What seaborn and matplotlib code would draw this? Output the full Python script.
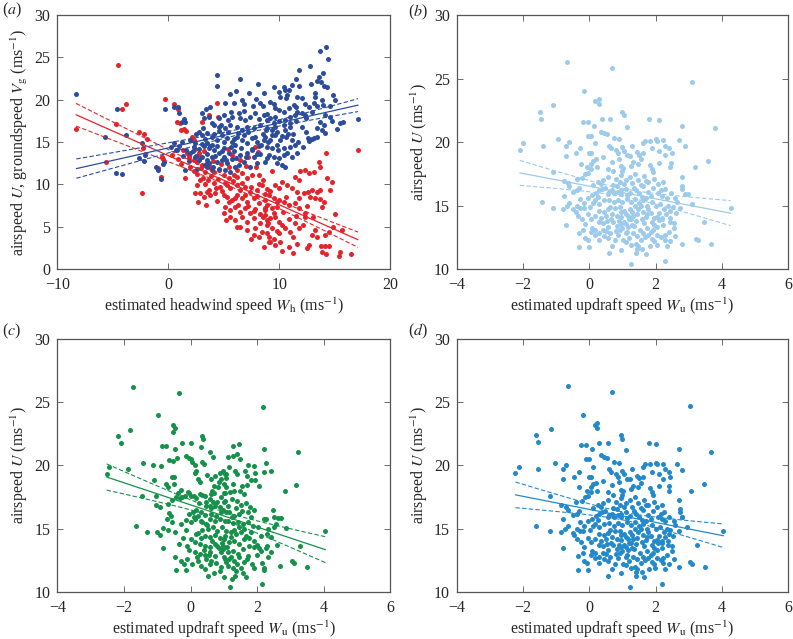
import numpy as np
import matplotlib
matplotlib.use("Agg")
import matplotlib.pyplot as plt
import seaborn as sns

# ---------------- data ----------------
# panel (a): headwind speed vs groundspeed (blue) and airspeed (red)
headwind_ground = [-8.29, -4.59, -5.67, -3.78, -4.68, -4.2, -2.34, -2.6, -2.19, -2.12,
    4.37, 4.37, 6.48, 8.04, 5.57, 6.12, 7.29, 8.64, 6.66, 6.78,
    7.92, 8.28, 5.12, 5.88, 3.71, 3.38, -0.26, 0.47, 0.83, 0.95,
    1.37, 1.22, 1.52, 3.02, 3.17, 3.62, 4.52, 4.97, 5.34, 5.73,
    6.33, 6.48, 6.93, 7.38, 7.83, 8.13, 8.58, 8.88, 4.07, 4.52,
    5.12, 5.57, 6.18, 6.63, 7.08, 7.68, 8.28, 8.82, 2.72, 3.02,
    3.47, 3.92, 4.37, 4.82, 5.27, 5.73, 6.18, 6.63, 7.08, 7.53,
    7.98, 8.58, 1.97, 2.42, 2.27, 2.72, 3.17, 3.62, 4.07, 4.52,
    4.97, 5.42, 5.88, 6.48, 7.08, 7.68, 8.28, 8.88, 3.02, 3.47,
    3.92, 4.37, 4.82, 5.27, 5.73, 6.33, 6.78, 7.38, 7.98, 0.47,
    0.92, 1.22, 0.23, 0.71, -1.1, -0.89, -0.62, -0.38, -0.44, 1.52,
    3.47, 3.92, 5.12, 5.57, 2.42, 1.97, 3.47, 3.77,
    14.2, 13.63, 14.38, 13.9, 12.79, 11.8, 13.54, 13.78, 11.5, 12.85,
    13.42, 13.99, 14.32, 11.74, 11.13, 10.83, 9.48, 10.38, 10.53, 9.93,
    10.08, 10.68, 10.59, 11.59, 12.04, 13.17, 13.18, 14.8, 15.04, 9.18,
    9.48, 11.28, 11.49, 12.34, 12.64, 13.09, 13.39, 13.84, 13.9, 9.99,
    10.38, 10.83, 11.59, 12.04, 12.34, 10.98, 11.43, 14.14, 14.59, 14.74,
    13.69, 13.99, 15.49, 15.7, 17.09, 8.88, 9.18, 9.63, 9.48, 9.93,
    10.38, 8.88, 9.33, 9.78, 10.53, 10.98, 13.39, 13.84, 14.14, 12.55,
    12.94, 13.39, 8.73, 9.18, 9.63, 10.08, 8.88, 9.33, 9.78, 10.38,
    9.03, 9.48, 9.93, 10.38, 10.68, 11.13, 11.59, 9.78, 10.23, 10.53,
    10.98, 11.43, 12.64, 13.09, 11.5, 12.0, 12.4, 11.2, 11.7, 12.1,
    10.6, 11.0, 8.2, 7.5, 6.0, 5.0,
    2.2, 2.5, 2.8, 3.0, 3.3, 3.5, 3.7, 3.9, 4.1, 4.2,
    4.4, 4.6, 4.8, 5.0, 5.2, 5.4, 5.6, 5.9, 6.1, 6.3,
    6.5, 6.8, 7.0, 7.2, 7.5, 7.8, 8.0, 8.3, 8.5, 8.7,
    9.0, 9.3, 9.6, 9.9, 10.2, 10.5, 10.8, 11.1, 2.5, 3.1,
    3.9, 4.7, 5.6, 6.8, 7.6, 8.5, 3.3, 4.0, 4.6, 6.0,
    1.6, 1.3, 0.8, 1.9, 2.6, 9.6, 12.4, 12.9, 14.6, 15.2]
groundspeed_Vg = [20.63, 18.94, 15.63, 15.83, 11.34, 11.22, 14.88, 13.07, 12.7, 13.46,
    22.92, 21.62, 22.41, 21.85, 20.67, 21.07, 20.75, 20.75, 19.97, 19.45,
    20.04, 19.65, 19.65, 19.57, 19.18, 18.86, 18.9, 19.18, 19.1, 18.39,
    17.68, 17.41, 17.41, 18.39, 17.8, 18.0, 17.8, 18.2, 17.6, 17.92,
    18.39, 17.8, 17.6, 18.0, 18.39, 17.68, 18.2, 17.6, 17.01, 16.82,
    16.62, 17.01, 16.82, 16.42, 16.82, 16.62, 17.01, 16.42, 16.23, 15.83,
    16.11, 15.63, 15.24, 15.83, 15.44, 15.04, 15.56, 15.24, 14.85, 15.44,
    15.04, 15.24, 15.24, 14.85, 14.37, 14.14, 14.53, 14.26, 14.06, 13.74,
    14.26, 13.67, 13.98, 13.47, 13.74, 13.27, 13.59, 13.08, 13.27, 12.88,
    13.2, 12.68, 12.88, 12.49, 12.96, 12.29, 12.68, 12.09, 12.49, 14.85,
    14.53, 15.04, 14.37, 14.06, 12.01, 11.7, 10.67, 12.68, 12.41, 11.7,
    12.09, 11.7, 11.7, 11.5, 13.27, 13.67, 14.85, 14.53,
    26.26, 25.79, 24.76, 23.11, 24.02, 23.5, 22.72, 22.13, 22.44, 21.85,
    22.24, 21.65, 21.54, 21.61, 21.73, 21.14, 21.54, 21.54, 21.14, 20.87,
    20.35, 20.55, 20.16, 20.35, 20.16, 20.75, 20.35, 20.55, 20.0, 19.76,
    19.45, 19.37, 19.17, 19.45, 19.17, 19.57, 19.29, 19.96, 19.37, 18.78,
    18.58, 18.98, 18.58, 18.39, 18.19, 18.0, 18.19, 18.19, 18.0, 17.48,
    17.4, 17.0, 17.2, 17.4, 17.68, 18.27, 17.8, 18.0, 17.2, 17.48,
    17.0, 16.61, 16.42, 16.14, 16.42, 16.81, 16.61, 16.42, 16.02, 15.51,
    15.35, 15.63, 15.63, 15.24, 15.83, 15.24, 14.45, 14.25, 14.65, 14.33,
    13.46, 13.27, 13.07, 13.46, 13.66, 13.27, 13.66, 12.48, 12.28, 12.09,
    14.45, 14.65, 15.12, 15.43, 17.5, 16.8, 16.2, 15.9, 15.0, 14.4,
    15.6, 17.3, 14.5, 14.0, 14.6, 13.2,
    13.9, 13.4, 12.9, 14.8, 15.4, 13.6, 12.5, 14.7, 15.9, 13.3,
    14.5, 16.3, 13.9, 15.0, 12.9, 16.2, 14.4, 15.3, 13.1, 16.1,
    14.3, 15.8, 13.2, 16.2, 14.2, 15.6, 13.6, 14.6, 16.0, 12.6,
    15.0, 15.8, 16.8, 14.0, 15.7, 17.6, 16.0, 15.2, 16.0, 16.7,
    17.3, 17.0, 18.5, 18.7, 19.2, 19.3, 12.3, 12.0, 11.8, 12.0,
    14.0, 13.3, 14.0, 12.7, 11.8, 19.0, 17.8, 18.6, 19.3, 16.5]

headwind_air = [-8.32, -4.56, -4.2, -3.78, -4.68, -5.64, -2.64, -2.19, -2.25, -2.34,
    -1.94, -0.29, 0.47, 0.83, 0.77, 1.01, 4.37, 3.68, 4.43, 3.02,
    1.13, 1.37, 1.61, 2.12, 2.27, -0.59, -0.44, 1.31, 1.67, 1.82,
    2.27, 2.72, 2.87, 2.57, 3.02, 3.47, 3.77, 4.07, 4.52, 4.97,
    5.42, 5.88, 6.18, 6.63, 7.08, 7.53, 8.13, 8.52, 7.83, 8.04,
    5.34, 5.73, 6.48, 7.17, 2.87, 3.32, 2.57, 2.42, 2.87, 3.62,
    3.77, 4.22, 3.17, 3.47, 4.67, 5.12, 5.57, 6.18, 6.48, 6.93,
    7.38, 7.98, 8.43, 8.88, 5.27, 5.73, 6.18, 6.63, 7.08, 7.68,
    8.13, 8.73, 5.12, 5.57, 6.03, 6.48, 6.93, 7.38, 7.83, 8.28,
    8.73, 5.21, 5.57, 6.03, 6.63, 7.08, 7.68, 8.28, 8.88, 6.48,
    7.08, 7.83, 8.43, 7.68, 8.13, 8.88, 9.03, 1.97, 1.49, -0.62,
    -0.9, 0.3, 0.9, 1.1,
    17.09, 14.23, 13.54, 13.69, 11.89, 12.34, 12.64, 13.09, 14.29, 14.74,
    14.59, 11.43, 11.74, 10.23, 10.68, 11.13, 11.59, 9.63, 9.93, 12.19,
    12.58, 12.94, 13.39, 13.69, 12.79, 13.24, 13.69, 13.99, 13.84, 15.04,
    9.03, 9.48, 9.93, 8.88, 9.33, 9.78, 10.38, 10.83, 11.43, 11.74,
    12.34, 12.28, 8.73, 9.18, 9.63, 9.93, 10.23, 8.88, 9.33, 9.78,
    10.53, 10.98, 11.43, 11.74, 12.94, 13.39, 14.14, 14.44, 9.03, 9.48,
    10.08, 10.83, 12.64, 12.49, 13.78, 14.14, 14.5, 13.84, 14.23, 15.49,
    15.4, 16.48, 10.23, 11.19, 9.18, 8.73, 15.6, 14.8,
    2.3, 2.6, 2.9, 3.1, 3.3, 3.6, 3.8, 4.1, 4.3, 4.5,
    4.8, 5.0, 5.3, 5.5, 5.8, 6.0, 6.3, 6.6, 6.9, 7.2,
    7.4, 7.7, 8.0, 8.2, 8.5, 8.7, 9.0, 9.2, 9.5, 9.8,
    10.0, 10.3, 10.6, 10.9, 11.2, 11.5, 11.8, 12.1, 12.5, 13.0,
    1.9, 2.4, 3.2, 4.0, 4.7, 5.5, 6.2, 7.0, 7.9, 9.3,
    2.7, 3.4, 4.4, 5.0, 6.2, 7.4, 8.6, 9.6, 11.6, 13.2]
airspeed_a = [16.57, 24.13, 18.94, 19.53, 17.13, 12.68, 16.22, 15.98, 14.33, 8.94,
    15.35, 20.04, 19.45, 18.86, 17.41, 17.21, 19.65, 18.2, 18.0, 17.41,
    16.42, 16.5, 16.34, 15.63, 15.24, 13.27, 12.96, 14.06, 13.74, 13.08,
    12.88, 13.67, 13.27, 12.68, 12.29, 12.57, 12.09, 11.5, 11.7, 11.11,
    10.71, 11.11, 11.7, 11.31, 10.71, 11.11, 11.11, 10.52, 14.45, 13.87,
    14.14, 13.47, 12.88, 13.27, 10.52, 10.04, 9.93, 8.94, 8.94, 9.33,
    8.75, 8.94, 8.55, 9.14, 9.73, 10.12, 9.53, 9.93, 9.33, 9.73,
    9.14, 9.33, 9.93, 9.42, 8.55, 8.16, 8.75, 8.35, 7.96, 8.35,
    7.76, 8.16, 7.37, 6.97, 7.37, 6.78, 7.17, 6.58, 7.05, 6.5,
    6.97, 5.79, 6.19, 5.79, 6.19, 5.6, 5.99, 5.4, 5.79, 5.0,
    4.61, 4.81, 4.41, 4.02, 3.82, 4.22, 3.23, 12.09, 10.71, 10.9,
    11.9, 13.5, 13.0, 12.4,
    14.06, 13.66, 12.68, 12.09, 11.57, 11.69, 11.3, 11.5, 10.71, 10.31,
    9.33, 10.91, 10.51, 10.31, 9.92, 9.53, 9.13, 9.92, 9.53, 8.94,
    9.13, 9.33, 9.13, 9.33, 8.54, 8.35, 8.27, 7.95, 7.36, 6.54,
    8.74, 8.43, 8.15, 7.56, 7.17, 7.36, 7.95, 7.56, 7.76, 7.17,
    6.57, 6.18, 6.38, 5.98, 6.18, 5.59, 5.2, 5.2, 4.8, 4.49,
    4.8, 4.41, 5.39, 4.8, 4.02, 3.82, 4.02, 4.41, 3.82, 3.54,
    3.23, 2.64, 2.83, 2.44, 2.72, 2.72, 2.72, 2.05, 1.73, 1.97,
    1.54, 1.77, 2.13, 1.93, 3.23, 7.17, 4.6, 5.0,
    11.6, 11.2, 11.9, 10.8, 11.4, 10.5, 11.0, 10.2, 9.6, 10.6,
    9.2, 8.7, 9.9, 7.9, 10.4, 8.4, 7.6, 10.2, 8.8, 7.4,
    9.7, 6.8, 8.6, 10.1, 6.1, 8.9, 5.4, 9.2, 6.6, 7.9,
    4.2, 6.7, 8.5, 5.9, 3.8, 6.3, 8.4, 5.2, 7.4, 6.1,
    13.4, 14.2, 13.9, 12.8, 12.4, 12.0, 10.9, 12.2, 12.0, 11.6,
    7.9, 7.6, 8.0, 6.6, 5.0, 3.6, 2.6, 2.8, 3.0, 4.6]

# panels (b) and (d): airspeed U (shared) vs two updraft estimates
airspeed_U = [26.3, 25.8, 24.7, 24.0, 23.2, 23.35, 23.0, 22.9, 22.4, 21.85,
    21.8, 21.8, 22.4, 22.1, 21.6, 21.6, 21.3, 21.8, 21.7, 21.2,
    21.3, 21.1, 19.9, 19.4, 19.7, 20.2, 19.7, 20.0, 20.5, 20.5,
    20.8, 20.7, 20.6, 20.3, 20.2, 19.7, 19.5, 19.1, 19.1, 19.6,
    19.3, 19.7, 19.9, 20.1, 20.1, 20.2, 20.1, 20.15, 19.7, 19.5,
    20.15, 19.65, 19.1, 19.5, 19.3, 19.2, 19.0, 18.9, 19.1, 18.7,
    18.8, 18.65, 18.9, 19.1, 18.5, 18.3, 18.3, 18.0, 17.9, 18.0,
    17.9, 17.7, 18.1, 17.95, 17.7, 17.4, 18.15, 18.4, 18.65, 18.2,
    17.9, 18.35, 18.35, 18.0, 18.0, 18.5, 17.25, 16.55, 16.3, 15.9,
    15.1, 15.9, 17.6, 16.9, 16.75, 17.1, 17.5, 17.55, 17.2, 16.4,
    16.2, 16.1, 16.5, 15.75, 15.2, 15.5, 15.2, 15.0, 14.7, 15.0,
    14.75, 15.25, 14.8, 13.5, 14.8, 15.8, 15.4, 16.0, 16.2, 16.3,
    16.4, 16.1, 16.6, 15.95, 16.1, 16.2, 16.3, 16.0, 16.4, 15.95,
    16.5, 16.1, 16.4, 15.95, 15.75, 15.6, 15.95, 14.9, 14.45, 14.0,
    13.7, 13.2, 12.65, 12.3, 11.8, 12.0, 12.4, 12.25, 12.0, 13.7,
    14.8, 10.6, 10.4, 11.3, 11.7, 11.7, 11.6, 12.0, 11.85, 11.15,
    11.9, 11.8, 12.45, 12.3, 12.85, 13.25, 13.1, 13.7, 13.6, 13.8,
    12.6, 12.45, 12.8, 12.25, 12.65, 13.1, 13.4, 13.55, 13.7, 13.55,
    13.3, 13.5, 13.8, 13.05, 12.8, 12.5, 12.65, 12.4, 13.05, 13.3,
    13.7, 14.1, 14.35, 13.95, 14.2, 13.9, 12.8, 12.45, 12.8, 12.25,
    14.5, 14.2, 14.35, 14.7, 14.5, 14.6, 14.2, 13.95, 14.3, 14.9,
    15.15, 15.4, 15.45, 15.25, 15.45, 15.3, 15.5, 15.3, 15.55, 15.2,
    15.4, 15.0, 15.3, 14.95, 15.15, 14.75, 15.0, 14.35, 13.85, 13.45,
    14.75, 14.5, 14.75, 14.95, 14.75, 14.35, 14.1, 13.7, 13.3, 13.05,
    12.8, 12.65, 12.9, 13.55, 13.95, 14.2, 16.6, 16.85, 17.0, 17.25,
    17.1, 16.85, 17.0, 17.25, 17.5, 17.0, 17.3, 16.85, 17.1, 16.7,
    16.85, 17.65, 18.45, 18.95, 18.3, 19.35, 19.9, 19.5, 19.1, 18.95,
    13.0, 13.9, 13.0, 13.75, 13.2, 12.95, 13.9, 13.4, 12.6, 12.3,
    13.6, 13.2, 12.9, 13.5, 12.7, 12.5, 13.9, 12.9, 12.2, 13.6,
    14.0, 14.2, 14.9, 14.8, 14.85, 14.6, 14.2, 14.5, 14.3, 14.95,
    14.1, 14.4, 14.05, 14.45, 14.0, 14.6, 15.3, 14.8, 15.2, 15.6,
    15.7, 15.9, 16.2, 15.9, 15.85, 16.2, 15.7, 15.6, 15.75, 16.2,
    16.55, 16.7, 16.75, 16.6, 16.9, 16.7, 16.3, 15.6, 14.5, 14.8,
    12.1, 11.8, 11.6, 12.2, 12.3, 13.1, 12.6, 11.3, 11.5, 11.9]
updraft_b = [-0.68, 0.68, 3.1, -0.15, 0.18, 0.3, 0.3, -1.1, -1.5, -1.45,
    0.37, 0.63, 1.0, 1.04, -0.18, -0.05, 0.15, 1.8, 2.1, 1.15,
    2.81, 3.8, -2.0, -2.1, -1.4, -0.93, -0.7, -0.6, -0.05, 0.05,
    0.36, 0.44, 0.52, 0.76, 0.91, 0.6, 0.65, -0.02, 0.04, 1.0,
    1.04, 1.3, 1.63, 1.69, 1.83, 2.0, 2.04, 2.23, 2.28, 2.41,
    2.7, 2.9, 2.5, 1.9, 2.1, 1.43, 1.49, 1.22, 0.88, 0.9,
    0.4, 0.2, -0.71, -0.41, 0.1, 0.04, -0.26, -0.06, 0.06, 0.24,
    0.57, 0.73, 0.97, 1.03, 1.0, 0.97, 1.27, 1.33, 1.57, 1.82,
    1.88, 2.09, 2.46, 2.45, 3.2, 3.58, 2.8, 2.81, 2.8, 2.9,
    3.1, 2.98, -1.1, -0.77, -0.64, -0.36, -0.13, -0.03, -0.22, -0.3,
    -0.37, -0.5, -0.6, -0.75, -0.6, -0.28, -0.16, -0.37, -0.48, -0.68,
    -0.8, -1.44, -1.1, -0.7, -0.28, 0.07, 0.17, 0.2, 0.3, 0.39,
    0.47, 0.58, 0.72, 0.76, 0.86, 0.96, 1.1, 1.23, 1.35, 1.5,
    1.63, 1.78, 1.93, 2.06, 2.2, 2.35, 2.48, 2.53, 2.61, 2.43,
    2.43, 2.57, 2.28, 2.28, 2.35, 2.81, 3.22, 3.27, 3.67, 3.46,
    4.27, 2.27, 1.27, 0.6, -0.32, -0.01, 1.43, 1.41, 1.47, 1.71,
    2.03, 1.83, -0.13, -0.05, -0.3, 0.07, 0.16, 0.3, 0.42, 0.54,
    0.44, 0.57, 0.63, 0.77, 0.87, 0.92, 0.84, 0.96, 1.04, 1.12,
    1.18, 1.28, 1.4, 1.53, 1.61, 1.68, 1.78, 1.88, 1.93, 2.03,
    1.88, 2.03, 1.73, 1.58, 1.33, 1.2, 1.33, 1.2, 1.1, 1.02,
    0.95, 0.83, 0.69, 0.57, 0.44, 0.29, 0.17, 0.06, -0.04, 0.02,
    0.3, 0.44, 0.6, 0.74, 0.87, 1.0, 1.13, 1.25, 1.38, 1.51,
    1.63, 1.75, 1.88, 2.0, 2.13, 2.25, 2.38, 2.31, 2.11, 2.23,
    1.78, 1.63, 1.48, 1.38, 1.23, 1.1, 0.97, 0.72, 0.57, 0.42,
    0.29, 0.17, 0.06, -0.13, -0.23, -0.33, 0.12, 0.27, 0.42, 0.55,
    0.81, 0.93, 1.1, 1.23, 1.38, 1.48, 1.65, 1.78, 1.95, 2.08,
    2.23, 1.93, 0.7, 1.13, 1.48, 0.82, 0.16, -0.28, 1.63, 2.27,
    0.5, 0.65, 0.8, 0.9, 1.0, 1.15, 1.25, 1.35, 1.45, 1.55,
    1.65, 1.75, 1.85, 1.95, 2.05, 2.15, 2.2, 2.4, 2.45, 2.55,
    0.35, 0.5, 0.62, 0.78, 0.92, 1.05, 1.18, 1.3, 1.45, 1.55,
    1.7, 1.85, 1.95, 2.1, 2.2, 2.45, 2.65, 2.75, 0.1, -0.05,
    0.25, 0.55, 0.68, 0.95, 1.15, 1.42, 1.58, 1.72, 1.85, 2.15,
    0.85, 1.05, 1.3, 1.55, 1.7, 0.35, 2.3, 2.6, -0.4, -0.15,
    1.1, 0.7, 1.6, 1.95, 0.3, -0.2, 2.6, 1.4, 0.95, 1.25]
updraft_d = [-0.65, 0.7, 3.05, -0.2, 0.17, 0.23, 0.23, -1.17, -1.6, -1.54,
    0.3, 0.55, 0.95, 0.98, -0.25, -0.1, 0.08, 1.8, 2.0, 1.1,
    2.7, 3.68, -2.11, -2.23, -1.55, -1.05, -0.78, -0.7, -0.1, 0.0,
    0.36, 0.44, 0.52, 0.76, 0.91, 0.6, 0.65, -0.02, 0.04, 1.0,
    1.04, 1.3, 1.63, 1.69, 1.83, 2.0, 2.04, 2.23, 2.28, 2.41,
    2.65, 2.8, 2.45, 1.9, 2.1, 1.43, 1.49, 1.22, 0.88, 0.9,
    0.4, 0.2, -0.8, -0.45, 0.1, 0.04, -0.3, -0.06, 0.06, 0.24,
    0.57, 0.73, 0.97, 1.03, 1.0, 0.97, 1.27, 1.33, 1.57, 1.82,
    1.88, 2.09, 2.4, 2.4, 3.07, 3.47, 2.7, 2.75, 2.75, 2.8,
    2.95, 2.8, -1.2, -0.85, -0.7, -0.4, -0.13, -0.03, -0.22, -0.3,
    -0.37, -0.5, -0.65, -0.8, -0.65, -0.28, -0.16, -0.37, -0.5, -0.72,
    -0.86, -1.6, -1.2, -0.8, -0.28, 0.07, 0.17, 0.2, 0.3, 0.39,
    0.47, 0.58, 0.72, 0.76, 0.86, 0.96, 1.1, 1.23, 1.35, 1.5,
    1.63, 1.78, 1.93, 2.06, 2.2, 2.3, 2.42, 2.45, 2.52, 2.38,
    2.38, 2.5, 2.22, 2.22, 2.28, 2.7, 3.05, 3.1, 3.5, 3.25,
    4.05, 2.2, 1.22, 0.55, -0.35, -0.05, 1.4, 1.38, 1.44, 1.66,
    1.98, 1.8, -0.15, -0.08, -0.35, 0.07, 0.16, 0.3, 0.42, 0.54,
    0.44, 0.57, 0.63, 0.77, 0.87, 0.92, 0.84, 0.96, 1.04, 1.12,
    1.18, 1.28, 1.4, 1.53, 1.61, 1.68, 1.78, 1.88, 1.93, 2.03,
    1.88, 2.03, 1.73, 1.58, 1.33, 1.2, 1.33, 1.2, 1.1, 1.02,
    0.95, 0.83, 0.69, 0.57, 0.44, 0.29, 0.17, 0.06, -0.04, 0.02,
    0.3, 0.44, 0.6, 0.74, 0.87, 1.0, 1.13, 1.25, 1.38, 1.51,
    1.63, 1.75, 1.88, 2.0, 2.13, 2.25, 2.35, 2.28, 2.08, 2.2,
    1.78, 1.63, 1.48, 1.38, 1.23, 1.1, 0.97, 0.72, 0.57, 0.42,
    0.29, 0.17, 0.06, -0.15, -0.25, -0.36, 0.12, 0.27, 0.42, 0.55,
    0.81, 0.93, 1.1, 1.23, 1.38, 1.48, 1.65, 1.78, 1.95, 2.05,
    2.2, 1.93, 0.7, 1.13, 1.48, 0.82, 0.12, -0.32, 1.63, 2.22,
    0.5, 0.65, 0.8, 0.9, 1.0, 1.15, 1.25, 1.35, 1.45, 1.55,
    1.65, 1.75, 1.85, 1.95, 2.05, 2.15, 2.2, 2.35, 2.4, 2.5,
    0.35, 0.5, 0.62, 0.78, 0.92, 1.05, 1.18, 1.3, 1.45, 1.55,
    1.7, 1.85, 1.95, 2.1, 2.2, 2.4, 2.6, 2.7, 0.1, -0.05,
    0.25, 0.55, 0.68, 0.95, 1.15, 1.42, 1.58, 1.72, 1.85, 2.15,
    0.85, 1.05, 1.3, 1.55, 1.7, 0.35, 2.25, 2.55, -0.45, -0.2,
    1.1, 0.7, 1.6, 1.95, 0.3, -0.2, 2.55, 1.4, 0.95, 1.25]

# panel (c): airspeed U vs a third updraft estimate
updraft_c = [-1.74, -0.34, -0.97, -1.82, -2.18, -2.08, -0.52, -0.46, -0.52, -0.87,
    -0.74, -0.46, -0.25, 0.0, 0.33, 0.38, 0.32, 0.58, 0.67, -0.14,
    -0.06, 0.0, 0.05, 0.14, 0.34, 0.4, -0.42, -0.64, -0.53, -1.42,
    -1.87, -2.52, -2.46, -1.13, -0.89, -1.1, -0.55, -0.49, -0.5, -0.74,
    -0.67, 0.16, 0.12, 0.22, 0.27, 0.48, 0.62, 0.74, 0.87, 0.98,
    1.05, 0.9, 0.84, 0.71, 0.65, 0.71, 0.82, 0.99, 1.07, 0.61,
    -0.28, -0.18, -0.08, -0.39, -0.44, -0.33, -0.25, -0.56, -0.69, -1.03,
    -1.45, -1.05, -0.91, -0.05, 0.02, 0.1, 0.17, 0.27, 0.35, 0.42,
    0.47, 0.57, 0.67, 0.8, 0.92, 1.02, 0.57, 0.62, 0.74, 0.87,
    0.97, 1.07, -0.65, -0.59, -0.72, -0.55, -1.65, -1.32, -1.0, -0.91,
    -0.82, -0.69, -0.48, -0.83, -0.46, -0.28, -0.21, -0.45, -0.13, -0.23,
    -0.1, -0.06, 0.02, 0.12, 0.22, 0.3, -0.13, 0.0, 0.12, 0.22,
    -0.06, 0.07, 0.17, 0.32, 0.42, 0.32, 0.47, 0.57, 0.72, 0.87,
    1.02, 0.52, 0.67, 0.8, 0.94, 0.42, 0.57, 0.72, 0.87, 1.02,
    0.27, 0.42, 0.57, 0.72, 0.84, 0.97, 0.12, 0.27, 0.42, 0.57,
    0.72, 0.92, 0.47, 0.62, 1.02, 0.32, 0.42, 0.52, 0.89, 0.22,
    0.57,
    2.18, 3.22, 1.26, 1.44, 1.11, 1.27, 1.39, 1.47, 2.22, 2.28,
    2.2, 2.42, 1.89, 1.72, 1.93, 1.63, 1.7, 1.33, 1.4, 1.15,
    1.03, 1.06, 1.28, 1.54, 1.69, 1.81, 1.94, 2.06, 2.83, 3.17,
    1.03, 1.17, 1.29, 1.49, 1.61, 1.23, 1.39, 1.01, 1.11, 1.51,
    1.66, 1.79, 1.91, 1.71, 2.49, 2.52, 2.62, 2.71, 2.22, 2.28,
    2.57, 2.87, 2.32, 1.16, 1.31, 1.46, 1.11, 1.26, 1.41, 1.56,
    1.71, 1.86, 2.01, 1.06, 1.21, 1.36, 1.51, 1.66, 1.81, 2.11,
    2.42, 1.01, 1.16, 1.31, 1.46, 1.61, 1.76, 1.91, 2.06, 2.11,
    2.3, 2.27, 2.42, 3.28, 4.05, 0.96, 1.11, 1.26, 1.41, 1.56,
    1.01, 1.16, 1.31, 1.46, 1.61, 1.71, 2.34, 2.15, 2.22, 2.21,
    2.69, 3.05, 3.11, 3.51, 1.91, 1.11, 1.26, 1.36, 1.56, 1.34,
    1.18, 2.16,
    0.15, 0.35, 0.5, 0.65, 0.8, 0.95, 1.1, 1.2, 1.3, 1.45,
    1.6, 1.75, 1.9, 2.0, 0.2, 0.4, 0.55, 0.75, 0.9, 1.05,
    1.2, 1.4, 1.5, 1.7, 1.85, 2.0, 0.1, 0.35, 0.6, 0.75,
    0.9, 1.25, 1.35, 1.55, 1.8, 0.45, -0.3, -0.15, -0.35, -0.1,
    0.05, 0.7, 1.0, 1.25, 1.65, 2.3, 2.5, 2.6, 0.25, 1.0]
airspeed_c = [26.23, 25.7, 24.0, 22.83, 22.3, 21.75, 23.23, 22.96, 22.62, 21.57,
    21.57, 21.3, 21.75, 21.75, 22.33, 22.07, 21.49, 21.1, 20.65, 20.72,
    20.6, 20.55, 20.3, 20.0, 20.25, 20.1, 20.57, 20.46, 20.36, 20.17,
    19.72, 19.35, 19.9, 20.0, 19.93, 18.88, 19.12, 19.12, 18.56, 18.56,
    18.3, 19.6, 19.4, 18.93, 18.72, 19.28, 18.93, 19.14, 19.38, 19.57,
    19.3, 18.93, 18.72, 18.4, 18.0, 17.82, 18.27, 18.54, 18.27, 17.75,
    18.09, 17.62, 17.88, 17.83, 17.48, 17.43, 17.48, 17.3, 16.96, 17.62,
    17.62, 16.88, 16.75, 17.8, 17.6, 17.6, 17.4, 17.73, 17.65, 17.62,
    17.09, 17.35, 17.14, 17.1, 17.48, 17.22, 16.82, 16.6, 16.82, 16.7,
    16.5, 16.3, 16.24, 16.03, 15.77, 15.56, 15.24, 14.77, 14.77, 14.5,
    15.03, 14.9, 14.77, 13.5, 12.79, 12.47, 12.19, 11.71, 11.74, 14.24,
    13.65, 13.3, 14.19, 13.93, 14.7, 14.3, 15.69, 15.5, 15.77, 16.03,
    16.17, 16.3, 16.5, 16.3, 16.1, 15.64, 15.38, 15.77, 15.64, 15.77,
    15.64, 14.98, 15.11, 14.85, 15.11, 14.45, 14.32, 14.5, 14.24, 14.45,
    13.8, 13.67, 13.53, 13.8, 13.47, 13.67, 13.14, 13.0, 12.92, 13.14,
    12.87, 13.14, 12.6, 12.47, 12.6, 12.08, 11.82, 11.29, 11.63, 12.47,
    12.21,
    24.65, 21.04, 21.52, 21.67, 20.67, 20.75, 20.9, 20.49, 21.3, 20.17,
    19.51, 19.59, 19.93, 20.07, 19.41, 19.59, 19.2, 19.54, 19.36, 19.91,
    19.36, 19.04, 18.54, 18.41, 18.48, 18.88, 18.83, 18.35, 17.96, 18.46,
    17.83, 17.93, 18.0, 17.98, 17.72, 17.35, 17.22, 17.09, 16.82, 16.88,
    17.04, 16.72, 16.51, 16.3, 16.48, 15.9, 15.85, 15.85, 15.77, 15.77,
    15.38, 15.06, 14.98, 16.3, 16.03, 16.17, 15.64, 15.45, 15.56, 15.35,
    15.51, 15.24, 15.11, 14.85, 14.75, 14.58, 14.77, 14.45, 14.72, 14.45,
    14.32, 14.19, 13.93, 14.06, 13.8, 14.19, 13.67, 13.53, 13.45, 13.27,
    13.67, 13.45, 13.14, 13.67, 14.8, 13.4, 13.14, 13.27, 13.0, 13.4,
    12.74, 12.61, 12.48, 12.74, 12.4, 12.87, 12.74, 12.29, 11.87, 11.71,
    12.03, 12.42, 12.27, 12.0, 11.9, 12.08, 11.9, 11.69, 11.5, 11.24,
    10.37, 10.63,
    14.6, 14.9, 15.3, 14.0, 13.6, 13.9, 13.55, 14.35, 14.9, 15.1,
    14.95, 14.3, 14.0, 13.7, 12.8, 13.3, 12.9, 12.3, 12.0, 12.35,
    12.8, 12.2, 11.9, 12.6, 12.2, 12.9, 15.9, 15.5, 16.2, 16.0,
    16.3, 15.9, 16.6, 16.4, 15.9, 16.8, 15.4, 14.9, 13.8, 12.6,
    12.2, 11.5, 11.2, 11.0, 11.2, 14.6, 15.1, 13.7, 17.0, 17.8]

# axis texts and ticks
panel_letters = ["a", "b", "c", "d"]
xlabel_a = "estimated headwind speed $W_{\\mathrm{h}}$ (ms$^{-1}$)"
ylabel_a = "airspeed $U$, groundspeed $V_{\\mathrm{g}}$ (ms$^{-1}$)"
xlabel_u = "estimated updraft speed $W_{\\mathrm{u}}$ (ms$^{-1}$)"
ylabel_u = "airspeed $U$ (ms$^{-1}$)"
xticks_a = [-10, 0, 10, 20]
yticks_a = [0, 5, 10, 15, 20, 25, 30]
xticks_u = [-4, -2, 0, 2, 4, 6]
yticks_u = [10, 15, 20, 25, 30]

# ---------------- styling ----------------
sns.set_style("ticks")
plt.rcParams["font.family"] = ["Liberation Serif", "DejaVu Serif"]
plt.rcParams["mathtext.fontset"] = "stix"
plt.rcParams["axes.unicode_minus"] = True

RED = "#E5232A"
BLUE = "#2C4C9C"
LIGHT = "#9CCBEC"
GREEN = "#16914A"
MID = "#2389CB"

fig = plt.figure(figsize=(7.93, 6.39), dpi=100)
ax_a = fig.add_axes([0.0723, 0.579, 0.420, 0.3975])
ax_b = fig.add_axes([0.576, 0.579, 0.4178, 0.3975])
ax_c = fig.add_axes([0.0723, 0.0736, 0.420, 0.3959])
ax_d = fig.add_axes([0.576, 0.0736, 0.4178, 0.3959])


def reg_lines(ax, x, y, color):
    x = np.asarray(x, float)
    y = np.asarray(y, float)
    n = len(x)
    slope, icpt = np.polyfit(x, y, 1)
    xs = np.linspace(x.min(), x.max(), 100)
    yh = icpt + slope * xs
    resid = y - (icpt + slope * x)
    s = np.sqrt(np.sum(resid ** 2) / (n - 2))
    sxx = np.sum((x - x.mean()) ** 2)
    se = s * np.sqrt(1.0 / n + (xs - x.mean()) ** 2 / sxx)
    t = 1.97
    ax.plot(xs, yh, color=color, lw=0.9, zorder=4)
    ax.plot(xs, yh + t * se, color=color, lw=0.8, ls=(0, (4, 2)), zorder=4)
    ax.plot(xs, yh - t * se, color=color, lw=0.8, ls=(0, (4, 2)), zorder=4)


def scatter(ax, x, y, color):
    sns.scatterplot(x=x, y=y, color=color, s=13, linewidth=0, ax=ax,
                    legend=False, zorder=3)


def style(ax, xt, yt, xl, yl, xlabel, ylabel):
    ax.set_xlim(*xl)
    ax.set_ylim(*yl)
    ax.set_xticks(xt)
    ax.set_yticks(yt)
    ax.tick_params(direction="in", top=True, right=True, length=4,
                   width=0.6, color="#555555", labelsize=11.5)
    ax.tick_params(axis="x", pad=6)
    ax.tick_params(axis="y", pad=5)
    for sp in ax.spines.values():
        sp.set_visible(True)
        sp.set_linewidth(0.9)
        sp.set_color("#555555")
    ax.set_xlabel(xlabel, fontsize=11.5, labelpad=2)
    ax.set_ylabel(ylabel, fontsize=11.5, labelpad=3)


# (a)
scatter(ax_a, headwind_air, airspeed_a, RED)
scatter(ax_a, headwind_ground, groundspeed_Vg, BLUE)
reg_lines(ax_a, headwind_air, airspeed_a, RED)
reg_lines(ax_a, headwind_ground, groundspeed_Vg, BLUE)
style(ax_a, xticks_a, yticks_a, (-10, 20), (0, 30), xlabel_a, ylabel_a)

# (b)
scatter(ax_b, updraft_b, airspeed_U, LIGHT)
reg_lines(ax_b, updraft_b, airspeed_U, LIGHT)
style(ax_b, xticks_u, yticks_u, (-4, 6), (10, 30), xlabel_u, ylabel_u)

# (c)
scatter(ax_c, updraft_c, airspeed_c, GREEN)
reg_lines(ax_c, updraft_c, airspeed_c, GREEN)
style(ax_c, xticks_u, yticks_u, (-4, 6), (10, 30), xlabel_u, ylabel_u)

# (d)
scatter(ax_d, updraft_d, airspeed_U, MID)
reg_lines(ax_d, updraft_d, airspeed_U, MID)
style(ax_d, xticks_u, yticks_u, (-4, 6), (10, 30), xlabel_u, ylabel_u)

for letter, (fx, fy) in zip(panel_letters, [(0.003, 0.984), (0.514, 0.981),
                                            (0.003, 0.482), (0.514, 0.482)]):
    fig.text(fx, fy, "($" + letter + "$)", fontsize=11.5, va="center", ha="left")

fig.savefig("out.png", dpi=100)
